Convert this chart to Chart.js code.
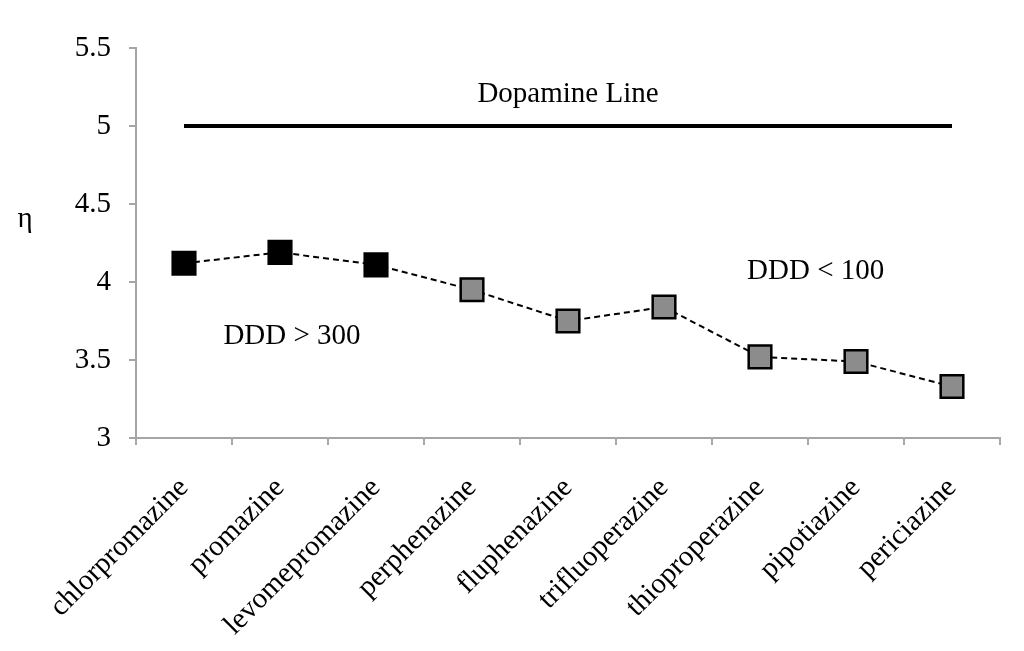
<!DOCTYPE html>
<html>
<head>
<meta charset="utf-8">
<script src="https://cdn.jsdelivr.net/npm/chart.js@4/dist/chart.umd.min.js"></script>
<style>
  html, body { margin: 0; padding: 0; background: #fff; }
  #wrap { width: 1024px; height: 651px; }
</style>
</head>
<body>
<div id="wrap"><canvas id="chart"></canvas></div>
<script>
//? drug names on the x axis
const drugs = [
  'chlorpromazine',
  'promazine',
  'levomepromazine',
  'perphenazine',
  'fluphenazine',
  'trifluoperazine',
  'thioproperazine',
  'pipotiazine',
  'periciazine',
]

//? eta values
const eta = [4.12, 4.19, 4.11, 3.95, 3.75, 3.84, 3.52, 3.49, 3.33]

//? dopamine reference line
const dopamine = [5, 5, 5, 5, 5, 5, 5, 5, 5]

//? marker fill: DDD > 300 black, the rest grey
const pointFills = ['#000', '#000', '#000', '#8c8c8c', '#8c8c8c', '#8c8c8c', '#8c8c8c', '#8c8c8c', '#8c8c8c']

//? y axis ticks
const yTicks = [3, 3.5, 4, 4.5, 5, 5.5]

//? text notes: [text, category index, y value]
const notes = [
  ['Dopamine Line', 4, 5.205],
  ['DDD > 300', 1.125, 3.654],
  ['DDD < 100', 6.58, 4.07],
]

const serif = "'Liberation Serif', 'Times New Roman', serif"
const axisGrey = '#a6a6a6'

// draws the free text labels and the eta symbol
const notesPlugin = {
  id: 'notes',
  afterDraw(chart) {
    const ctx = chart.ctx
    const x = chart.scales.x
    const y = chart.scales.y
    ctx.save()
    ctx.fillStyle = '#000'
    ctx.font = `29px ${serif}`
    ctx.textAlign = 'center'
    ctx.textBaseline = 'middle'
    notes.forEach(n => {
      const px = x.getPixelForValue(0) + n[1] * (x.getPixelForValue(1) - x.getPixelForValue(0))
      ctx.fillText(n[0], px, y.getPixelForValue(n[2]))
    })
    // eta label, not rotated
    ctx.fillText('η', 25, y.getPixelForValue(4.4))
    ctx.restore()
  }
}

let ctx = document.getElementById('chart').getContext('2d')
chart = new Chart(ctx, {
  type: 'line',
  data: {
    labels: drugs,
    datasets: [
      {
        label: 'Dopamine Line',
        data: dopamine,
        borderColor: '#000',
        borderWidth: 4,
        pointRadius: 0,
        fill: false,
      },
      {
        label: 'eta',
        data: eta,
        borderColor: '#000',
        borderWidth: 2,
        borderDash: [6, 4],
        pointStyle: 'rect',
        pointRadius: 16,
        pointHoverRadius: 16,
        pointBackgroundColor: pointFills,
        pointBorderColor: '#000',
        pointBorderWidth: 2.5,
        fill: false,
      },
    ],
  },
  options: {
    responsive: true,
    maintainAspectRatio: false,
    animation: false,
    layout: { padding: { top: 48, right: 24, left: 0, bottom: 0 } },
    plugins: {
      legend: { display: false },
      tooltip: { enabled: false },
    },
    scales: {
      x: {
        offset: true,
        grid: {
          offset: true,
          drawOnChartArea: false,
          drawTicks: true,
          tickLength: 7,
          color: axisGrey,
          lineWidth: 2,
        },
        border: { color: axisGrey, width: 2 },
        ticks: {
          minRotation: 45,
          maxRotation: 45,
          autoSkip: false,
          color: '#000',
          padding: 26,
          font: { family: serif, size: 29 },
        },
        afterFit(scale) { scale.height = 651 - 438 },
      },
      y: {
        min: 3,
        max: 5.5,
        afterBuildTicks(scale) { scale.ticks = yTicks.map(v => ({ value: v })) },
        grid: {
          drawOnChartArea: false,
          drawTicks: true,
          tickLength: 7,
          color: axisGrey,
          lineWidth: 2,
        },
        border: { color: axisGrey, width: 2 },
        ticks: {
          color: '#000',
          padding: 18,
          font: { family: serif, size: 29 },
          callback: v => String(v),
        },
        afterFit(scale) { scale.width = 136 },
      },
    },
  },
  plugins: [notesPlugin],
})
</script>
</body>
</html>
